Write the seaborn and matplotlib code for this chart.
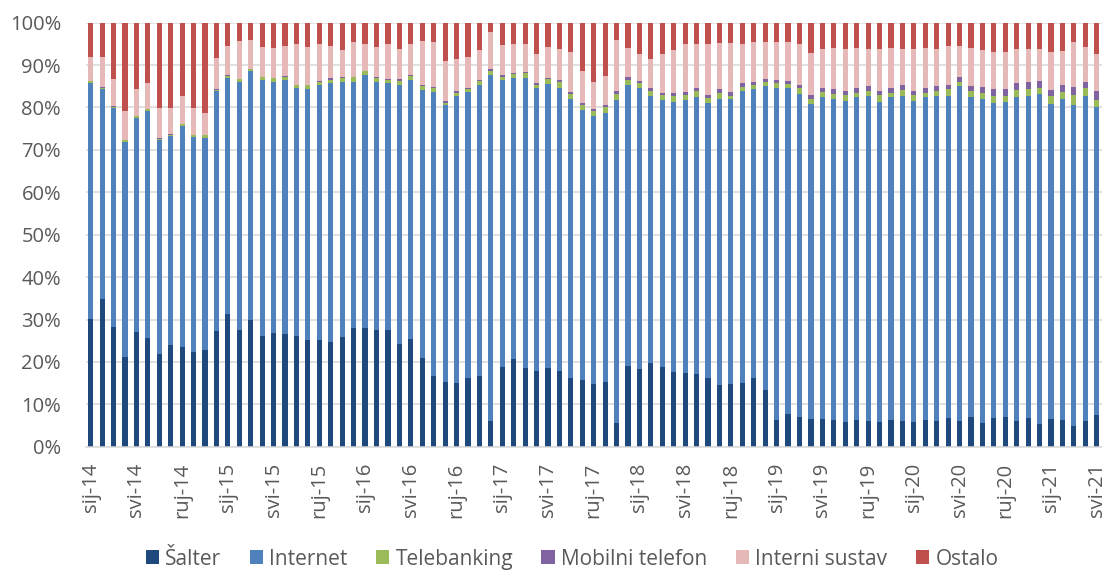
import matplotlib
matplotlib.use("Agg")
import numpy as np
import pandas as pd
import matplotlib.pyplot as plt
from matplotlib.patches import Patch
from matplotlib.ticker import PercentFormatter
import seaborn as sns

# Razdoblja: mjesečno od siječnja 2014. do svibnja 2021.
mjeseci = ["sij", "velj", "ožu", "tra", "svi", "lip", "srp", "kol", "ruj", "lis", "stu", "pro"]
godine = ["14", "15", "16", "17", "18", "19", "20", "21"]
razdoblja = [f"{m}-{g}" for g in godine for m in mjeseci][:89]

# Oznake na osi x (svaki četvrti mjesec)
x_oznake = ["sij-14", "svi-14", "ruj-14", "sij-15", "svi-15", "ruj-15",
            "sij-16", "svi-16", "ruj-16", "sij-17", "svi-17", "ruj-17",
            "sij-18", "svi-18", "ruj-18", "sij-19", "svi-19", "ruj-19",
            "sij-20", "svi-20", "ruj-20", "sij-21", "svi-21"]

kanali = ["Šalter", "Internet", "Telebanking", "Mobilni telefon", "Interni sustav", "Ostalo"]
boje = ["#1F497D", "#4F81BD", "#9BBB59", "#8064A2", "#E6B9B8", "#C0504D"]

# Udjeli po kanalima (%)
salter = [30.2, 34.8, 28.3, 21.2, 27.0, 25.6, 21.8, 24.0, 23.6, 22.3, 22.8, 27.3,
          31.3, 27.5, 29.9, 26.1, 26.9, 26.6, 26.1, 25.1, 25.1, 24.7, 25.9, 28.0,
          28.0, 27.5, 27.6, 24.2, 25.5, 20.9, 16.7, 15.2, 15.1, 16.2, 16.7, 6.1,
          18.9, 20.7, 18.5, 17.9, 18.5, 17.9, 16.3, 15.7, 14.8, 15.2, 5.7, 19.0,
          18.4, 19.8, 18.9, 17.7, 17.4, 17.2, 16.2, 14.6, 14.8, 15.1, 16.2, 13.4,
          6.3, 7.7, 7.1, 6.6, 6.6, 6.3, 5.8, 6.4, 6.1, 5.9, 6.4, 6.1,
          5.9, 6.4, 6.1, 6.8, 6.1, 7.1, 5.7, 6.8, 7.1, 6.1, 6.8, 5.4,
          6.6, 6.4, 4.9, 6.1, 7.5]
internet = [55.5, 49.5, 51.6, 50.7, 50.6, 53.6, 50.6, 49.3, 52.1, 50.8, 50.1, 56.5,
            55.7, 58.6, 58.6, 60.3, 59.2, 59.9, 58.4, 59.2, 60.3, 61.0, 60.2, 58.1,
            59.6, 58.6, 58.2, 61.2, 61.1, 63.3, 67.0, 65.3, 67.7, 67.5, 68.7, 81.5,
            67.7, 66.3, 68.5, 66.6, 67.1, 66.8, 65.6, 63.6, 63.3, 63.5, 76.1, 66.4,
            66.1, 63.0, 62.8, 63.7, 64.3, 65.3, 64.9, 67.5, 67.1, 68.7, 68.1, 71.6,
            78.2, 76.8, 76.1, 74.3, 75.8, 75.6, 75.7, 76.0, 76.7, 75.5, 76.0, 76.7,
            75.6, 76.0, 76.7, 76.0, 79.0, 75.4, 76.2, 74.3, 74.3, 76.4, 76.0, 77.8,
            74.3, 75.5, 75.8, 76.7, 72.5]
telebanking = [0.5, 0.4, 0.2, 0.4, 0.4, 0.4, 0.2, 0.3, 0.3, 0.4, 0.5, 0.4,
               0.5, 0.6, 0.5, 0.7, 0.8, 0.7, 0.7, 0.9, 0.7, 0.8, 0.9, 1.0,
               1.0, 0.8, 0.7, 0.9, 0.9, 0.8, 0.9, 0.6, 0.6, 0.7, 0.8, 1.1,
               0.7, 0.8, 1.1, 0.9, 1.1, 1.4, 1.2, 1.3, 1.1, 1.4, 1.4, 1.1,
               1.2, 1.2, 1.2, 1.2, 1.3, 1.4, 1.2, 1.4, 0.9, 1.0, 1.1, 1.0,
               1.3, 1.0, 1.4, 1.2, 1.2, 1.3, 1.4, 1.1, 1.2, 1.5, 1.1, 1.3,
               1.5, 1.1, 1.2, 1.6, 1.0, 1.4, 1.6, 1.7, 1.4, 1.6, 1.6, 1.4,
               1.7, 1.8, 2.3, 1.7, 1.8]
mobilni = [0.1, 0.1, 0.2, 0.1, 0.1, 0.1, 0.2, 0.2, 0.1, 0.1, 0.1, 0.1,
           0.1, 0.1, 0.1, 0.1, 0.1, 0.3, 0.1, 0.1, 0.2, 0.4, 0.2, 0.2,
           0.1, 0.3, 0.3, 0.4, 0.2, 0.3, 0.3, 0.4, 0.5, 0.2, 0.3, 0.3,
           0.3, 0.3, 0.3, 0.3, 0.3, 0.4, 0.6, 0.4, 0.5, 0.5, 0.7, 0.7,
           0.5, 0.6, 0.6, 0.7, 0.7, 0.7, 0.7, 0.8, 0.9, 0.9, 0.7, 0.7,
           0.8, 0.7, 0.8, 0.9, 1.0, 1.1, 1.0, 1.2, 1.1, 1.0, 1.2, 1.1,
           0.9, 1.2, 1.1, 1.0, 1.1, 1.2, 1.4, 1.5, 1.6, 1.6, 1.5, 1.6,
           1.6, 1.6, 1.9, 1.6, 2.1]
interni = [5.6, 7.2, 6.5, 6.8, 6.3, 6.0, 7.1, 6.1, 6.6, 6.2, 5.2, 7.4,
           7.0, 8.8, 6.9, 7.1, 7.0, 7.0, 9.7, 9.0, 8.7, 7.7, 6.4, 8.1,
           6.3, 7.1, 8.1, 7.2, 7.3, 10.4, 10.5, 9.5, 7.6, 7.4, 7.1, 8.9,
           7.2, 6.8, 6.6, 7.0, 7.3, 7.4, 9.4, 7.7, 6.3, 6.9, 12.1, 6.8,
           6.4, 6.9, 9.2, 10.2, 11.3, 10.4, 12.0, 11.0, 11.6, 9.3, 9.4, 8.7,
           8.9, 9.2, 9.6, 9.9, 9.3, 9.7, 10.0, 9.4, 8.8, 10.0, 9.4, 8.7,
           10.0, 9.4, 8.8, 9.0, 7.3, 9.0, 8.6, 8.9, 8.6, 8.2, 8.0, 7.7,
           8.9, 8.1, 10.6, 8.2, 8.8]
ostalo = [8.1, 8.0, 13.2, 20.8, 15.6, 14.3, 20.1, 20.1, 17.3, 20.2, 21.3, 8.3,
          5.4, 4.4, 4.0, 5.7, 6.0, 5.5, 5.0, 5.7, 5.0, 5.4, 6.4, 4.6,
          5.0, 5.7, 5.1, 6.1, 5.0, 4.3, 4.6, 9.0, 8.5, 8.0, 6.4, 2.1,
          5.2, 5.1, 5.0, 7.3, 5.7, 6.1, 6.9, 11.3, 14.0, 12.5, 4.0, 6.0,
          7.4, 8.5, 7.3, 6.5, 5.0, 5.0, 5.0, 4.7, 4.7, 5.0, 4.5, 4.6,
          4.5, 4.6, 5.0, 7.1, 6.1, 6.0, 6.1, 5.9, 6.1, 6.1, 5.9, 6.1,
          6.1, 5.9, 6.1, 5.6, 5.5, 5.9, 6.5, 6.8, 7.0, 6.1, 6.1, 6.1,
          6.9, 6.6, 4.5, 5.7, 7.3]

serije = [salter, internet, telebanking, mobilni, interni, ostalo]

siroko = pd.DataFrame({k: v for k, v in zip(kanali, serije)})
siroko["rb"] = np.arange(len(razdoblja))
siroko["razdoblje"] = razdoblja
dugo = siroko.melt(id_vars=["rb", "razdoblje"], var_name="kanal", value_name="udio")

sns.set_theme(style="white")
plt.rcParams["font.family"] = ["Open Sans", "DejaVu Sans"]

siva = "#595959"
fig = plt.figure(figsize=(11.02, 5.70), dpi=100)
ax = fig.add_axes([0.07804, 0.2163, 0.92196, 0.7439])

# 100 % složeni stupci: seaborn slaže prvu razinu na vrh, zato obrnuti redoslijed
sns.histplot(data=dugo, x="rb", hue="kanal", weights="udio",
             multiple="fill", discrete=True, shrink=0.45,
             hue_order=kanali[::-1], palette=dict(zip(kanali, boje)),
             alpha=1, linewidth=0, legend=False, ax=ax)

ax.set_xlim(-0.41, 88.46)
ax.set_ylim(0, 1)
ax.set_xticks(range(0, len(razdoblja), 4))
ax.set_xticklabels(x_oznake, rotation=90)
ax.set_yticks(np.linspace(0, 1, 11))
ax.yaxis.set_major_formatter(PercentFormatter(1.0, decimals=0))
ax.set_xlabel("")
ax.set_ylabel("")

ax.yaxis.grid(True, color="#D9D9D9", linewidth=1.1)
ax.set_axisbelow(True)
for s in ["top", "left", "right"]:
    ax.spines[s].set_visible(False)
ax.spines["bottom"].set_color("#D9D9D9")
ax.spines["bottom"].set_linewidth(1.1)

ax.tick_params(axis="x", length=0, pad=11.5, labelsize=14.5, labelcolor=siva)
ax.tick_params(axis="y", length=0, pad=18, labelsize=14.5, labelcolor=siva)

rucke = [Patch(facecolor=c, edgecolor="none", label=k) for k, c in zip(kanali, boje)]
fig.legend(handles=rucke, loc="center", bbox_to_anchor=(0.519, 0.019), ncol=6,
           frameon=False, fontsize=15, handlelength=0.65, handleheight=0.65,
           handletextpad=0.3, columnspacing=1.35, labelcolor=siva)

fig.savefig("out.png", dpi=100)
